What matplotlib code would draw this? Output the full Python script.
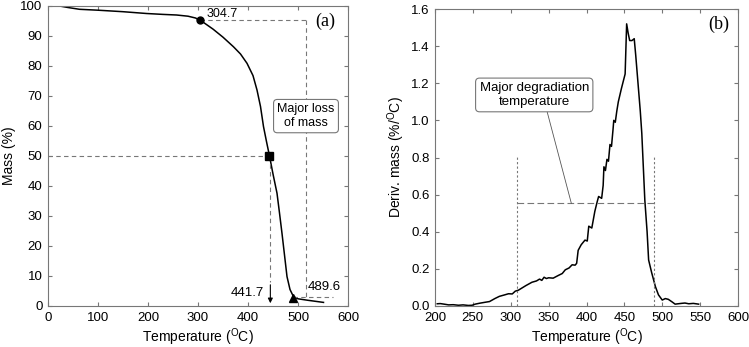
import matplotlib.pyplot as plt
from matplotlib.patches import FancyArrowPatch

plt.rcParams['font.family'] = ['Liberation Sans', 'DejaVu Sans']
plt.rcParams['font.size'] = 9
plt.rcParams['mathtext.default'] = 'regular'

# TG curve (mass %)
tg_temp = [23, 40, 63, 100, 150, 197, 230, 257, 280, 295, 306, 330, 350, 371, 385, 398, 410,
           418, 425, 431, 437, 443, 450, 458, 463, 468, 473, 478, 484, 491, 500, 520, 551]
tg_mass = [100, 99.5, 98.9, 98.6, 98.1, 97.5, 97.2, 97.0, 96.6, 96.0, 95.1, 92.3, 89.6, 86.4, 84.0,
           80.9, 76.8, 72.0, 66.5, 59.8, 54.8, 50.0, 44.0, 37.6, 31.0, 24.2, 17.0, 9.8, 5.5, 3.1,
           2.4, 1.9, 1.2]

# key points
onset_t, onset_m = 304.7, 95.2
half_t, half_m = 441.7, 50
end_t, end_m = 489.6, 2.6

# DTG curve (deriv. mass %/oC)
dtg_temp = [203, 207, 212, 218, 224, 231, 237, 244, 249, 253, 259, 266, 272, 279, 285, 292, 297,
            302, 306, 310, 314, 320, 328, 334, 338, 341, 344, 347, 350, 356, 363, 368, 372, 377,
            381, 385, 387, 389, 393, 398, 401, 403, 407, 411, 414, 416, 420, 422, 423, 425, 427,
            429, 431, 433, 435, 436, 438, 440, 442, 446, 451, 453, 455, 457, 460, 463, 465, 468,
            471, 473, 475, 477, 480, 482, 486, 491, 495, 500, 504, 508, 513, 517, 525, 530, 535,
            541, 548]
dtg_val = [0.012, 0.013, 0.010, 0.006, 0.007, 0.004, 0.006, 0.003, 0.004, 0.010, 0.015, 0.020,
           0.024, 0.040, 0.052, 0.060, 0.066, 0.065, 0.080, 0.085, 0.095, 0.110, 0.128, 0.135,
           0.145, 0.138, 0.155, 0.148, 0.152, 0.150, 0.165, 0.175, 0.195, 0.205, 0.222, 0.220,
           0.230, 0.300, 0.330, 0.355, 0.350, 0.430, 0.420, 0.510, 0.560, 0.590, 0.580, 0.650,
           0.750, 0.730, 0.790, 0.780, 0.870, 0.860, 0.950, 1.000, 0.990, 1.050, 1.100, 1.170,
           1.250, 1.520, 1.470, 1.430, 1.430, 1.440, 1.350, 1.200, 1.050, 0.930, 0.750, 0.570,
           0.400, 0.248, 0.180, 0.104, 0.060, 0.032, 0.040, 0.036, 0.022, 0.010, 0.014, 0.016,
           0.012, 0.014, 0.010]

deg_start, deg_end, deg_level = 308, 489.6, 0.553

spine_col = '#777777'

fig = plt.figure(figsize=(7.49, 3.47), dpi=100)
ax1 = fig.add_axes([48 / 749, 41 / 347, 300 / 749, 300 / 347])
ax2 = fig.add_axes([435 / 749, 41 / 347, 303 / 749, 297 / 347])

for ax in (ax1, ax2):
    for s in ax.spines.values():
        s.set_color(spine_col)
        s.set_linewidth(0.8)
    ax.tick_params(direction='in', top=True, right=True, length=3, width=0.8,
                   color=spine_col, labelsize=9.5, pad=4)

# ---- panel (a)
ax1.plot(tg_temp, tg_mass, color='black', lw=1.1)
ax1.plot([onset_t], [onset_m], 'o', color='black', ms=5, zorder=5)
ax1.plot([half_t], [half_m], 's', color='black', ms=6, zorder=5)
ax1.plot([end_t], [end_m], '^', color='black', ms=6, zorder=5)

dash = dict(color='#777777', lw=0.8, dashes=(4, 3))
ax1.plot([onset_t, 515], [onset_m, onset_m], **dash)
ax1.plot([515, 515], [onset_m, 3.0], **dash)
ax1.plot([end_t, 570], [3.0, 3.0], **dash)
ax1.plot([0, half_t], [half_m, half_m], **dash)
ax1.plot([half_t + 3, half_t + 3], [half_m, 8], **dash)
ax1.add_patch(FancyArrowPatch((half_t + 3, 8), (half_t + 3, 0), arrowstyle='-|>',
                              mutation_scale=7, color='black', lw=0.8))

ax1.text(318, 97.4, '304.7', ha='left', va='center')
ax1.text(432, 4.3, '441.7', ha='right', va='center', fontsize=9.5)
ax1.text(519, 6.2, '489.6', ha='left', va='center', fontsize=9.5)
ax1.text(516, 63.3, 'Major loss\nof mass', ha='center', va='center', linespacing=1.2,
         bbox=dict(boxstyle='round,pad=0.3', fc='white', ec='#777777', lw=0.8))
ax1.text(555, 95, '(a)', family='Liberation Serif', fontsize=13, ha='center', va='center')

ax1.set_xlim(0, 600)
ax1.set_ylim(0, 100)
ax1.set_xticks(range(0, 601, 100))
ax1.set_yticks(range(0, 101, 10))
ax1.set_xlabel('Temperature ($^{O}$C)', fontsize=10, labelpad=2)
ax1.set_ylabel('Mass (%)', fontsize=10, labelpad=3)

# ---- panel (b)
ax2.plot(dtg_temp, dtg_val, color='black', lw=1.1)
vdash = dict(color='#777777', lw=0.8, dashes=(2, 2))
ax2.plot([deg_start, deg_start], [0, 0.81], **vdash)
ax2.plot([deg_end, deg_end], [0, 0.81], **vdash)
ax2.plot([deg_start, deg_end], [deg_level, deg_level], color='#777777', lw=0.8, dashes=(6, 3))
ax2.plot([348, 380], [1.047, deg_level], color='#555555', lw=0.6)
ax2.text(331, 1.137, 'Major degradiation\ntemperature', ha='center', va='center',
         linespacing=1.2, fontsize=9.5,
         bbox=dict(boxstyle='round,pad=0.3', fc='white', ec='#777777', lw=0.8))
ax2.text(574, 1.52, '(b)', family='Liberation Serif', fontsize=13, ha='center', va='center')

ax2.set_xlim(200, 600)
ax2.set_ylim(0, 1.6)
ax2.set_xticks(range(200, 601, 50))
ax2.set_yticks([i * 0.2 for i in range(9)])
ax2.yaxis.set_major_formatter(plt.FormatStrFormatter('%.1f'))
ax2.set_xlabel('Temperature ($^{O}$C)', fontsize=10, labelpad=2)
ax2.set_ylabel('Deriv. mass (%/$^{O}$C)', fontsize=10, labelpad=3)

fig.savefig('out.png', dpi=100)
